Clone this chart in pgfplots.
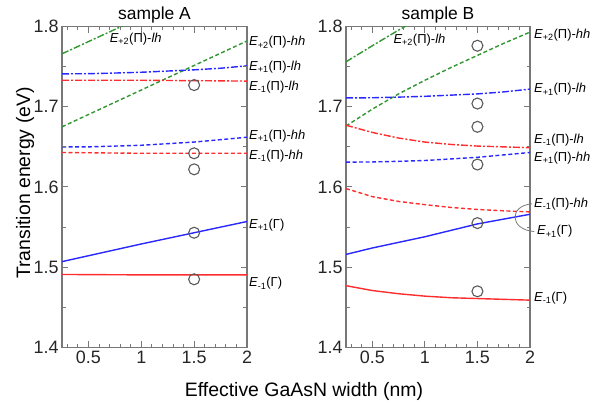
\documentclass[border=0pt]{standalone}
\usepackage{fontspec}
\setmainfont{Liberation Sans}
\usepackage{pgfplots}
\pgfplotsset{compat=1.18}
\definecolor{cred}{RGB}{255,45,45}
\definecolor{cblue}{RGB}{40,40,255}
\definecolor{cgreen}{RGB}{50,150,50}
\definecolor{fgray}{RGB}{120,120,120}
\definecolor{circ}{RGB}{90,90,90}
\newcommand{\lab}[3]{{\itshape E}\textsubscript{#1}(#2)#3}
\tikzset{
  dd/.style={line width=1.4bp, dash pattern=on 7bp off 2bp on 2bp off 2bp},
  ds/.style={line width=1.4bp, dash pattern=on 4bp off 2.5bp},
  sl/.style={line width=1.4bp},
  cl/.style={anchor=west, inner sep=0pt, font=\fontsize{13}{14}\selectfont},
  tk/.style={fgray, line width=1bp},
}
\newcommand{\myticks}{%
  \pgfplotsinvokeforeach{0.5,1,1.5,2}{\draw[tk] (axis cs:##1,1.4) -- ++(0pt,6bp); \draw[tk] (axis cs:##1,1.8) -- ++(0pt,-6bp);}
  \pgfplotsinvokeforeach{0.3,0.4,0.6,0.7,0.8,0.9,1.1,1.2,1.3,1.4,1.6,1.7,1.8,1.9}{\draw[tk] (axis cs:##1,1.4) -- ++(0pt,3.5bp); \draw[tk] (axis cs:##1,1.8) -- ++(0pt,-3.5bp);}
  \pgfplotsinvokeforeach{1.4,1.5,1.6,1.7,1.8}{\draw[tk] (axis cs:0.25,##1) -- ++(6bp,0pt); \draw[tk] (axis cs:2,##1) -- ++(-6bp,0pt);}
  \pgfplotsinvokeforeach{1.45,1.55,1.65,1.75}{\draw[tk] (axis cs:0.25,##1) -- ++(3.5bp,0pt); \draw[tk] (axis cs:2,##1) -- ++(-3.5bp,0pt);}
}
\pgfplotsset{
  panel/.style={
    scale only axis, width=185bp, height=321bp,
    xmin=0.25, xmax=2, ymin=1.4, ymax=1.8,
    xtick={0.5,1,1.5,2}, ytick={1.4,1.5,1.6,1.7,1.8},
    minor xtick={0.3,0.4,0.6,0.7,0.8,0.9,1.1,1.2,1.3,1.4,1.6,1.7,1.8,1.9},
    minor ytick={1.45,1.55,1.65,1.75},
    tick align=inside, tick pos=both,
    major tick length=6bp, minor tick length=3.5bp,
    every tick/.style={fgray, line width=1bp},
    axis line style={fgray, line width=1.3bp},
    /pgf/number format/assume math mode=true,
    /pgf/number format/fixed,
    yticklabel style={/pgf/number format/precision=1,/pgf/number format/fixed zerofill},
    tick label style={font=\fontsize{18}{20}\selectfont, text=black!85},
    clip mode=individual,
  },
  pts/.style={only marks, mark=o, mark size=5.5bp, mark options={draw=circ, fill=white, line width=1.1bp, solid}},
}
\begin{document}
\begin{tikzpicture}
\path (0bp,0bp) rectangle (616bp,407bp);
% ---------------- sample A
\begin{axis}[panel, at={(62bp,59.5bp)}, anchor=south west]
\addplot[cgreen, dd] coordinates {(0.25,1.766) (1.0,1.8115)};
\addplot[cgreen, ds] coordinates {(0.25,1.675) (2,1.782)};
\addplot[cblue, dd] coordinates {(0.25,1.741) (0.5,1.7412) (0.75,1.742) (1,1.743) (1.25,1.7445) (1.5,1.746) (1.75,1.748) (2,1.751)};
\addplot[cred, dd] coordinates {(0.25,1.733) (1,1.733) (2,1.732)};
\addplot[cblue, ds] coordinates {(0.25,1.650) (0.5,1.650) (0.75,1.651) (1,1.652) (1.25,1.654) (1.5,1.656) (1.75,1.659) (2,1.662)};
\addplot[cred, ds] coordinates {(0.25,1.643) (1,1.642) (2,1.642)};
\addplot[cblue, sl] coordinates {(0.25,1.507) (1,1.529) (1.5,1.543) (2,1.557)};
\addplot[cred, sl] coordinates {(0.25,1.491) (1,1.4905) (2,1.4905)};
\addplot[pts] coordinates {(1.5,1.727) (1.5,1.642) (1.5,1.622) (1.5,1.543) (1.5,1.485)};
\myticks
\node[cl] at (axis cs:0.70,1.784) {\lab{+2}{Π}{-{\itshape lh}}};
\node[cl] at (axis cs:2,1.780) [xshift=2bp] {\lab{+2}{Π}{-{\itshape hh}}};
\node[cl] at (axis cs:2,1.749) [xshift=2bp] {\lab{+1}{Π}{-{\itshape lh}}};
\node[cl] at (axis cs:2,1.7246) [xshift=2bp] {\lab{-1}{Π}{-{\itshape lh}}};
\node[cl] at (axis cs:2,1.663) [xshift=2bp] {\lab{+1}{Π}{-{\itshape hh}}};
\node[cl] at (axis cs:2,1.638) [xshift=2bp] {\lab{-1}{Π}{-{\itshape hh}}};
\node[cl] at (axis cs:2,1.5525) [xshift=2bp] {\lab{+1}{Γ}{}};
\node[cl] at (axis cs:2,1.4796) [xshift=2bp] {\lab{-1}{Γ}{}};
\node[anchor=base, font=\fontsize{17.5}{20}\selectfont] at (rel axis cs:0.5,1) [yshift=7bp] {sample A};
\end{axis}
% ---------------- sample B
\begin{axis}[panel, at={(346bp,59.5bp)}, anchor=south west, width=184bp]
\addplot[cgreen, dd] coordinates {(0.25,1.756) (0.5,1.776) (0.75,1.7955) (1.0,1.814)};
\addplot[cgreen, ds] coordinates {(0.25,1.676) (0.5,1.697) (0.75,1.716) (1,1.733) (1.25,1.749) (1.5,1.764) (1.75,1.779) (2,1.793)};
\addplot[cblue, dd] coordinates {(0.25,1.711) (0.5,1.7112) (0.75,1.712) (1,1.713) (1.25,1.7145) (1.5,1.716) (1.75,1.7185) (2,1.722)};
\addplot[cred, dd] coordinates {(0.25,1.677) (0.5,1.668) (0.75,1.661) (1,1.656) (1.25,1.653) (1.5,1.651) (1.75,1.650) (2,1.649)};
\addplot[cblue, ds] coordinates {(0.25,1.631) (0.5,1.6312) (0.75,1.632) (1,1.633) (1.25,1.635) (1.5,1.637) (1.75,1.640) (2,1.643)};
\addplot[cred, ds] coordinates {(0.25,1.598) (0.5,1.588) (0.75,1.582) (1,1.578) (1.25,1.5745) (1.5,1.572) (1.75,1.5703) (2,1.569)};
\addplot[cblue, sl] coordinates {(0.25,1.516) (0.5,1.524) (0.75,1.531) (1,1.538) (1.25,1.546) (1.5,1.554) (1.75,1.560) (2,1.566)};
\addplot[cred, sl] coordinates {(0.25,1.477) (0.5,1.471) (0.75,1.467) (1,1.464) (1.25,1.462) (1.5,1.461) (1.75,1.460) (2,1.459)};
\addplot[pts] coordinates {(1.5,1.776) (1.5,1.704) (1.5,1.675) (1.5,1.628) (1.5,1.555) (1.5,1.470)};
\myticks
\draw[fgray, line width=0.8bp] (axis cs:2.02,1.579) .. controls (axis cs:1.80,1.577) and (axis cs:1.80,1.547) .. (axis cs:2.04,1.5445);
\node[cl] at (axis cs:0.70,1.783) {\lab{+2}{Π}{-{\itshape lh}}};
\node[cl] at (axis cs:2,1.789) [xshift=4bp] {\lab{+2}{Π}{-{\itshape hh}}};
\node[cl] at (axis cs:2,1.7214) [xshift=4bp] {\lab{+1}{Π}{-{\itshape lh}}};
\node[cl] at (axis cs:2,1.658) [xshift=4bp] {\lab{-1}{Π}{-{\itshape lh}}};
\node[cl] at (axis cs:2,1.6357) [xshift=4bp] {\lab{+1}{Π}{-{\itshape hh}}};
\node[cl] at (axis cs:2,1.579) [xshift=4bp] {\lab{-1}{Π}{-{\itshape hh}}};
\node[cl] at (axis cs:2,1.5445) [xshift=7bp] {\lab{+1}{Γ}{}};
\node[cl] at (axis cs:2,1.462) [xshift=4bp] {\lab{-1}{Γ}{}};
\node[anchor=base, font=\fontsize{17.5}{20}\selectfont] at (rel axis cs:0.5,1) [yshift=7bp] {sample B};
\end{axis}
\node[rotate=90, font=\fontsize{19.5}{22}\selectfont] at (25bp,224bp) {Transition energy (eV)};
\node[anchor=base, font=\fontsize{19.5}{22}\selectfont] at (304bp,11bp) {Effective GaAsN width (nm)};
\end{tikzpicture}
\end{document}
